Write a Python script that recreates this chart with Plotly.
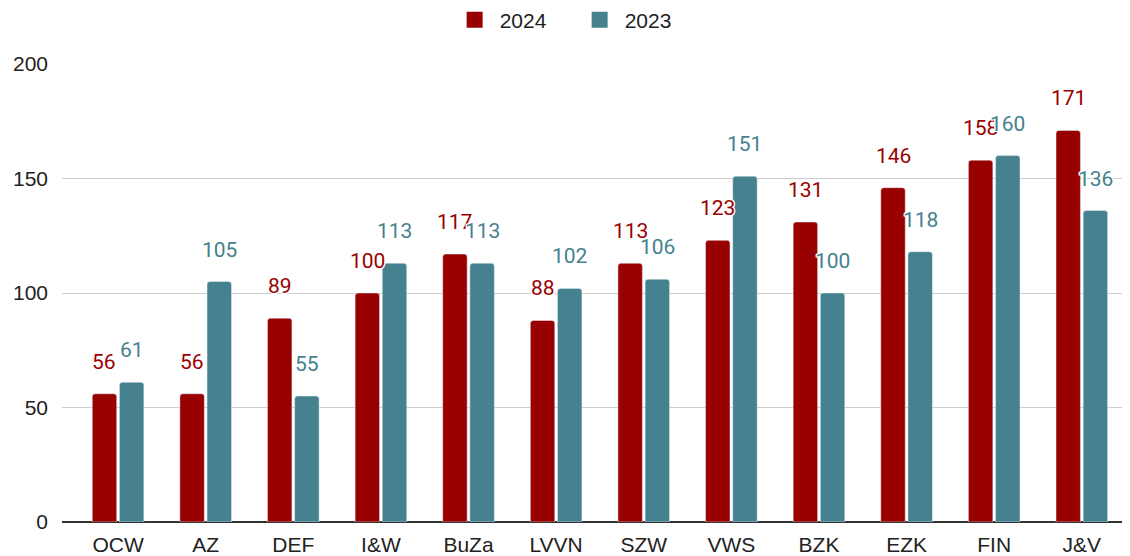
import plotly.graph_objects as go

categories = ["OCW", "AZ", "DEF", "I&W", "BuZa", "LVVN", "SZW", "VWS", "BZK", "EZK", "FIN", "J&V"]
values_2024 = [56, 56, 89, 100, 117, 88, 113, 123, 131, 146, 158, 171]
values_2023 = [61, 105, 55, 113, 113, 102, 106, 151, 100, 118, 160, 136]
y_ticks = [0, 50, 100, 150, 200]

RED = "#990000"
TEAL = "#45818e"
BARGAP = 0.38

fig = go.Figure()
fig.add_trace(go.Bar(name="2024", x=categories, y=values_2024, marker_color=RED, showlegend=False))
fig.add_trace(go.Bar(name="2023", x=categories, y=values_2023, marker_color=TEAL, showlegend=False))
for name, col in (("2024", RED), ("2023", TEAL)):
    fig.add_trace(go.Scatter(name=name, x=[None], y=[None], mode="markers",
                             marker=dict(symbol="square", size=22, color=col)))

halo = "white 1px 1px 0, white -1px -1px 0, white 1px -1px 0, white -1px 1px 0, white 0 1px 0, white 0 -1px 0, white 1px 0 0, white -1px 0 0"
slot = (1 - BARGAP) / 2
for i, (a, b) in enumerate(zip(values_2024, values_2023)):
    for val, off, col in ((a, -slot / 2, RED), (b, slot / 2, TEAL)):
        fig.add_annotation(x=i + off, y=val, xref="x", yref="y", text=str(val),
                           showarrow=False, yshift=32,
                           font=dict(family="Roboto", size=21, color=col, shadow=halo))

fig.update_layout(
    width=1122, height=548,
    margin=dict(l=54, r=0, t=56, b=34, autoexpand=False),
    plot_bgcolor="white", paper_bgcolor="white",
    barmode="group", bargap=BARGAP, bargroupgap=0.1,
    barcornerradius=3,
    font=dict(family="Liberation Sans, Arial", size=20, color="#222222"),
    legend=dict(orientation="h", x=0.48, xanchor="center",
                y=1.096, yanchor="middle",
                font=dict(size=21, color="#222222"),
                itemwidth=40, entrywidth=70, traceorder="normal"),
    showlegend=True,
)
fig.update_xaxes(type="category", range=[-0.64, 11.55], showgrid=False,
                 ticks="", showline=False, ticklabelstandoff=8,
                 tickfont=dict(size=21, color="#222222"))
fig.update_yaxes(range=[0, 200], tickvals=y_ticks, showgrid=True, gridcolor="#cccccc",
                 gridwidth=1, zeroline=True, zerolinecolor="#333333", zerolinewidth=2,
                 ticks="", ticklabelstandoff=13, tickfont=dict(size=21, color="#222222"))

fig.write_html("out.html")
